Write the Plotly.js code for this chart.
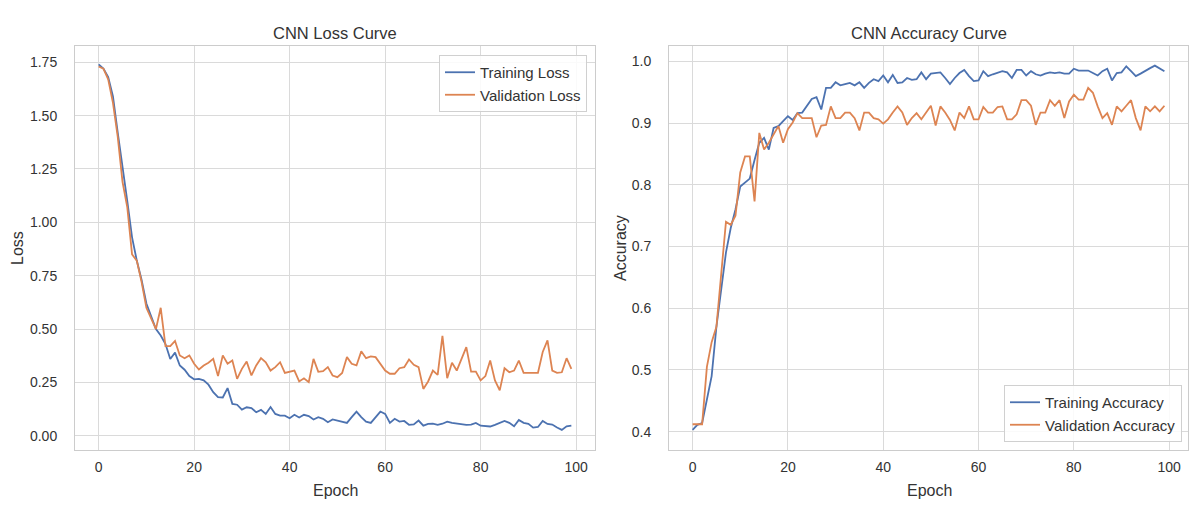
<!DOCTYPE html>
<html>
<head>
<meta charset="utf-8">
<script src="https://cdn.plot.ly/plotly-3.0.1.min.js"></script>
<style>html,body{margin:0;padding:0;background:#fff;}#chart{width:1191px;height:508px;}</style>
</head>
<body>
<div id="chart"></div>
<script>
const epochs = Array.from({length: 100}, (_, i) => i);

const trainLoss = [1.74,1.72,1.68,1.59,1.42,1.27,1.10,0.93,0.82,0.73,
0.62,0.56,0.50,0.47,0.43,0.36,0.39,0.33,0.31,0.28,
0.265,0.267,0.26,0.24,0.205,0.182,0.18,0.224,0.15,0.146,
0.123,0.134,0.13,0.111,0.122,0.103,0.135,0.103,0.095,0.095,
0.083,0.099,0.086,0.099,0.093,0.077,0.088,0.08,0.064,0.077,
0.072,0.064,0.061,0.088,0.114,0.088,0.067,0.061,0.088,0.114,
0.103,0.061,0.08,0.067,0.07,0.052,0.054,0.072,0.048,0.056,
0.057,0.052,0.057,0.067,0.061,0.057,0.053,0.052,0.053,0.061,
0.048,0.045,0.044,0.052,0.061,0.07,0.061,0.045,0.075,0.061,
0.057,0.039,0.042,0.07,0.056,0.053,0.039,0.028,0.045,0.048];

const valLoss = [1.73,1.72,1.67,1.56,1.40,1.19,1.07,0.85,0.82,0.72,
0.60,0.55,0.50,0.60,0.42,0.42,0.445,0.377,0.364,0.377,
0.338,0.311,0.33,0.343,0.361,0.28,0.377,0.338,0.353,0.267,
0.314,0.348,0.283,0.33,0.364,0.345,0.306,0.322,0.345,0.295,
0.301,0.306,0.255,0.27,0.252,0.361,0.3,0.303,0.322,0.283,
0.275,0.295,0.369,0.338,0.33,0.396,0.364,0.372,0.369,0.338,
0.306,0.291,0.291,0.317,0.322,0.358,0.333,0.322,0.22,0.255,
0.306,0.286,0.468,0.27,0.343,0.306,0.361,0.416,0.301,0.301,
0.26,0.28,0.353,0.26,0.213,0.317,0.298,0.306,0.353,0.295,
0.295,0.295,0.295,0.393,0.447,0.306,0.295,0.298,0.364,0.314];

const trainAcc = [0.403,0.411,0.414,0.45,0.49,0.57,0.63,0.69,0.73,0.76,
0.797,0.803,0.81,0.84,0.868,0.876,0.857,0.892,0.895,0.903,
0.911,0.905,0.916,0.917,0.927,0.939,0.942,0.922,0.957,0.957,
0.966,0.961,0.963,0.965,0.961,0.966,0.957,0.965,0.971,0.968,
0.977,0.966,0.978,0.965,0.966,0.973,0.97,0.971,0.982,0.971,
0.98,0.981,0.982,0.973,0.963,0.973,0.981,0.986,0.976,0.968,
0.969,0.984,0.976,0.979,0.982,0.984,0.982,0.973,0.986,0.986,
0.977,0.984,0.979,0.977,0.98,0.982,0.981,0.982,0.98,0.98,
0.988,0.985,0.985,0.985,0.981,0.977,0.984,0.988,0.969,0.981,
0.982,0.992,0.984,0.976,0.98,0.985,0.989,0.993,0.989,0.984];

const valAcc = [0.412,0.412,0.412,0.505,0.545,0.57,0.66,0.74,0.735,0.75,
0.82,0.846,0.846,0.773,0.884,0.857,0.868,0.881,0.895,0.868,
0.89,0.901,0.916,0.908,0.908,0.908,0.877,0.896,0.897,0.927,
0.908,0.908,0.917,0.917,0.908,0.888,0.917,0.917,0.908,0.906,
0.899,0.906,0.917,0.927,0.917,0.897,0.908,0.916,0.906,0.917,
0.928,0.896,0.927,0.917,0.905,0.888,0.917,0.908,0.927,0.906,
0.906,0.926,0.917,0.917,0.926,0.927,0.906,0.906,0.914,0.937,
0.937,0.928,0.897,0.917,0.917,0.937,0.928,0.937,0.908,0.935,
0.946,0.938,0.938,0.957,0.949,0.927,0.908,0.916,0.897,0.927,
0.919,0.928,0.937,0.908,0.888,0.927,0.919,0.927,0.919,0.928];

const lossTicks = [0, 0.25, 0.5, 0.75, 1.0, 1.25, 1.5, 1.75];
const lossTickText = ["0.00","0.25","0.50","0.75","1.00","1.25","1.50","1.75"];
const accTicks = [0.4, 0.5, 0.6, 0.7, 0.8, 0.9, 1.0];
const accTickText = ["0.4","0.5","0.6","0.7","0.8","0.9","1.0"];
const epochTicks = [0, 20, 40, 60, 80, 100];

const BLUE = '#4c72b0', ORANGE = '#dd8452';
const FONT = 'Liberation Sans, Arial, sans-serif';
const TXT = '#333333';
const W = 1191, H = 508;

const traces = [
  {x: epochs, y: trainLoss, name: 'Training Loss', type: 'scatter', mode: 'lines', line: {color: BLUE, width: 1.8}, xaxis: 'x', yaxis: 'y', legend: 'legend'},
  {x: epochs, y: valLoss, name: 'Validation Loss', type: 'scatter', mode: 'lines', line: {color: ORANGE, width: 1.8}, xaxis: 'x', yaxis: 'y', legend: 'legend'},
  {x: epochs, y: trainAcc, name: 'Training Accuracy', type: 'scatter', mode: 'lines', line: {color: BLUE, width: 1.8}, xaxis: 'x2', yaxis: 'y2', legend: 'legend2'},
  {x: epochs, y: valAcc, name: 'Validation Accuracy', type: 'scatter', mode: 'lines', line: {color: ORANGE, width: 1.8}, xaxis: 'x2', yaxis: 'y2', legend: 'legend2'}
];

const yTop = 46, yBot = 450;
const yDom = [(H - yBot) / H, (H - yTop) / H];

function xAxis(domain, anchor) {
  return {
    domain: domain, anchor: anchor, range: [-4.95, 103.95],
    tickvals: epochTicks, ticktext: epochTicks.map(String),
    showgrid: true, gridcolor: '#dadada', gridwidth: 1, zeroline: false,
    showline: true, linecolor: '#cccccc', linewidth: 1, mirror: true,
    ticks: 'outside', ticklen: 4, tickcolor: 'rgba(0,0,0,0)',
    tickfont: {family: FONT, size: 14, color: TXT},
    automargin: false, fixedrange: true
  };
}
function yAxis(range, tv, tt, anchor) {
  return {
    domain: yDom, anchor: anchor, range: range,
    tickvals: tv, ticktext: tt,
    showgrid: true, gridcolor: '#dadada', gridwidth: 1, zeroline: false,
    showline: true, linecolor: '#cccccc', linewidth: 1, mirror: true,
    ticks: 'outside', ticklen: 14, tickcolor: 'rgba(0,0,0,0)',
    tickfont: {family: FONT, size: 14, color: TXT},
    automargin: false, fixedrange: true
  };
}

const legendStyle = {
  bgcolor: 'rgba(255,255,255,0.85)', bordercolor: '#d0d0d0', borderwidth: 1,
  font: {family: FONT, size: 15, color: TXT}, itemwidth: 30,
  tracegroupgap: 0
};

function ann(text, xpx, ypx, size, angle) {
  return {text: text, xref: 'paper', yref: 'paper', x: xpx / W, y: (H - ypx) / H,
    xanchor: 'center', yanchor: 'middle', showarrow: false, textangle: angle || 0,
    font: {family: FONT, size: size, color: TXT}};
}

const yMid = (yTop + yBot) / 2;

const layout = {
  width: W, height: H,
  margin: {l: 0, r: 0, t: 0, b: 0},
  paper_bgcolor: '#ffffff', plot_bgcolor: '#ffffff',
  showlegend: true,
  xaxis: xAxis([75 / W, 595 / W], 'y'),
  yaxis: yAxis([-0.066, 1.826], lossTicks, lossTickText, 'x'),
  xaxis2: xAxis([669 / W, 1188 / W], 'y2'),
  yaxis2: yAxis([0.3703, 1.0248], accTicks, accTickText, 'x2'),
  legend: Object.assign({}, legendStyle, {x: 587 / W, xanchor: 'right', y: (H - 55) / H, yanchor: 'top'}),
  legend2: Object.assign({}, legendStyle, {x: 1182 / W, xanchor: 'right', y: (H - 442) / H, yanchor: 'bottom'}),
  annotations: [
    ann('CNN Loss Curve', 335, 33, 16.5),
    ann('CNN Accuracy Curve', 929, 33, 16.5),
    ann('Epoch', 335, 490, 16),
    ann('Epoch', 929, 490, 16),
    ann('Loss', 17, yMid, 16, -90),
    ann('Accuracy', 620, yMid, 16, -90)
  ]
};

Plotly.newPlot('chart', traces, layout, {displayModeBar: false, staticPlot: true});
</script>
</body>
</html>
